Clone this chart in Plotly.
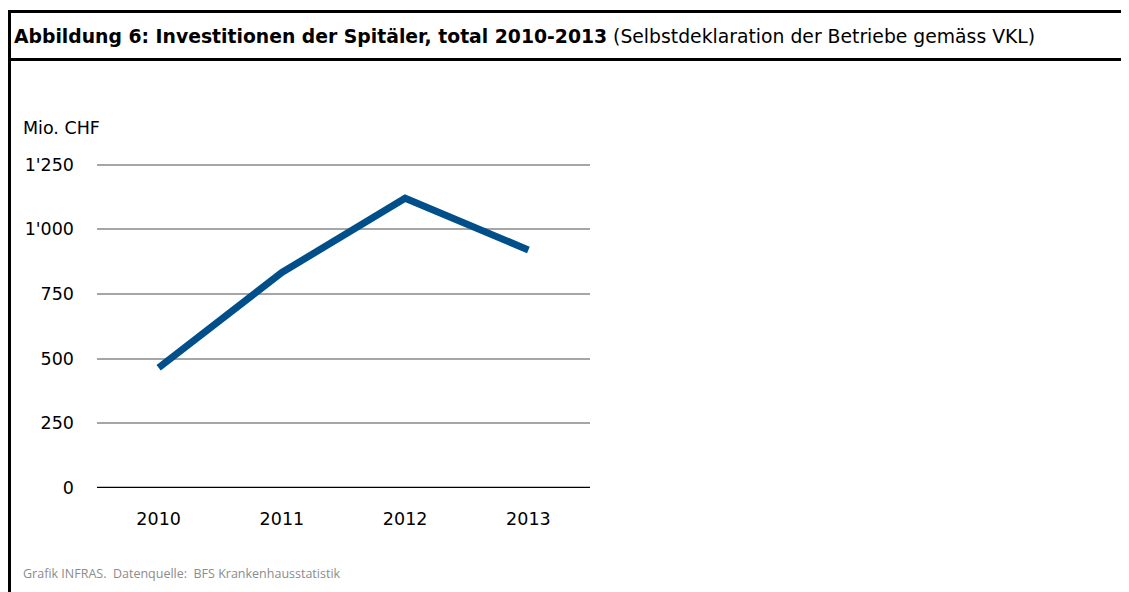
import plotly.graph_objects as go

years = ["2010", "2011", "2012", "2013"]
invest = [465, 833, 1120, 920]
ytick_vals = [0, 250, 500, 750, 1000, 1250]
ytick_text = ["0", "250", "500", "750", "1'000", "1'250"]

W, H = 1129, 592
OFF = 8  # page body margin of the rendered html
# plot area in screenshot pixels
SL, SR, ST, SB = 97, 590, 165, 488
YMAX = 1260
ST_eff = SB - (SB - ST) * YMAX / 1250.0
L, R, T, B = SL - OFF, SR - OFF, ST_eff - OFF, SB - OFF

def px(x):
    return (x - OFF - L) / (R - L)

def py(y):
    return (B - (y - OFF)) / (B - T)

FONT = "DejaVu Sans"

fig = go.Figure()
fig.add_trace(go.Scatter(
    x=years, y=invest, mode="lines",
    line=dict(color="#004F8B", width=7),
    hoverinfo="skip", showlegend=False,
))

fig.update_layout(
    width=W, height=H,
    margin=dict(l=L, r=W - R, t=T, b=H - B, pad=0),
    paper_bgcolor="white", plot_bgcolor="white",
    font=dict(family=FONT, size=16, color="#000000"),
    xaxis=dict(
        type="category", range=[-0.5, 3.5], showgrid=False,
        showline=False, zeroline=False, ticks="",
        tickfont=dict(size=17.5), ticklabelstandoff=18,
    ),
    yaxis=dict(
        range=[0, YMAX], tickvals=ytick_vals, ticktext=ytick_text,
        showgrid=True, gridcolor="#A6A6A6", gridwidth=1.5,
        zeroline=False, showline=False, ticks="",
        tickfont=dict(size=17.5), ticklabelstandoff=22,
    ),
    shapes=[
        dict(type="line", xref="paper", yref="y", x0=0, x1=1, y0=0, y1=0,
             line=dict(color="black", width=2.5)),
        dict(type="line", xref="paper", yref="paper", x0=px(5), x1=px(1140),
             y0=py(12), y1=py(12), line=dict(color="black", width=3)),
        dict(type="line", xref="paper", yref="paper", x0=px(5), x1=px(1140),
             y0=py(60), y1=py(60), line=dict(color="black", width=3)),
        dict(type="line", xref="paper", yref="paper", x0=px(9.5), x1=px(9.5),
             y0=py(10.5), y1=py(610), line=dict(color="black", width=3)),
    ],
    annotations=[
        dict(xref="paper", yref="paper", x=px(12), y=py(37), xanchor="left", yanchor="middle",
             showarrow=False, font=dict(size=18.8, family=FONT),
             text="<b>Abbildung 6: Investitionen der Spitäler, total 2010-2013</b> (Selbstdeklaration der Betriebe gemäss VKL)"),
        dict(xref="paper", yref="paper", x=px(21), y=py(128), xanchor="left", yanchor="middle",
             showarrow=False, font=dict(size=17.5, family=FONT), text="Mio. CHF"),
        dict(xref="paper", yref="paper", x=px(21), y=py(573), xanchor="left", yanchor="middle",
             showarrow=False, font=dict(size=12.5, family="Open Sans", color="#8C8C8C"),
             text="Grafik INFRAS.  Datenquelle:  BFS Krankenhausstatistik"),
    ],
)

fig.write_html("out.html")
